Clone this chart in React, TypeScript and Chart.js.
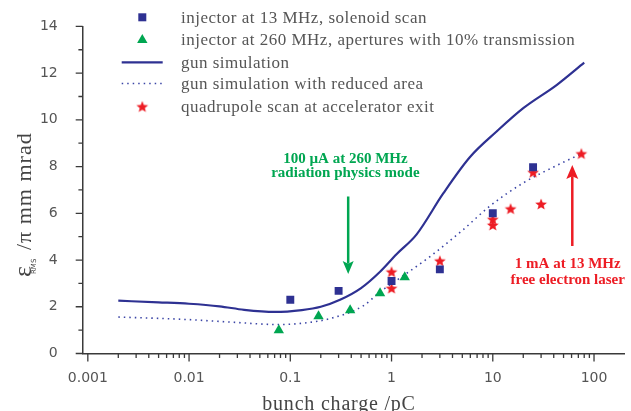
import React, { useEffect, useRef } from 'react';
import { Chart, registerables } from 'chart.js';

Chart.register(...registerables);

// ---------------- data ----------------
const solenoidScanX = [0.1, 0.3, 1, 3, 10, 25];
const solenoidScanY = [2.3, 2.68, 3.1, 3.6, 6.0, 7.97];

const apertureX = [0.077, 0.19, 0.39, 0.77, 1.35];
const apertureY = [1.0, 1.59, 1.85, 2.58, 3.26];

const gunSimX = [0.002, 0.005, 0.01, 0.02, 0.035, 0.07, 0.13, 0.2, 0.31, 0.5, 0.77, 1.12, 1.77, 3.24, 5.93, 10.9, 20, 43, 80];
const gunSimY = [2.26, 2.19, 2.13, 2.02, 1.87, 1.78, 1.86, 2.0, 2.3, 2.8, 3.5, 4.25, 5.1, 6.85, 8.4, 9.5, 10.5, 11.5, 12.45];

const reducedX = [0.002, 0.009, 0.027, 0.075, 0.135, 0.25, 0.53, 0.75, 1.2, 2.4, 5.1, 9.3, 20, 43, 75];
const reducedY = [1.56, 1.46, 1.34, 1.24, 1.3, 1.5, 2.05, 2.6, 3.22, 4.15, 5.3, 6.3, 7.3, 8.05, 8.55];

const quadScanX = [1, 1, 3, 10, 10, 15, 25, 30, 75];
const quadScanY = [3.5, 2.8, 3.97, 5.75, 5.5, 6.2, 7.76, 6.4, 8.56];

const xDecades = [0.001, 0.01, 0.1, 1, 10, 100];
const xTickLabels = ['0.001', '0.01', '0.1', '1', '10', '100'];
const yTickValues = [0, 1, 2, 3, 4, 5, 6, 7, 8, 9, 10, 11, 12, 13, 14];
const yTickLabels = ['0', '', '2', '', '4', '', '6', '', '8', '', '10', '', '12', '', '14'];

const legendLabels = [
  'injector at 13 MHz, solenoid scan',
  'injector at 260 MHz, apertures with 10% transmission',
  'gun simulation',
  'gun simulation with reduced area',
  'quadrupole scan at accelerator exit',
];

const xTitle = 'bunch charge /pC';
const yTitleMain = 'ε';
const yTitleSub = 'RMS';
const yTitleRest = '/π mm mrad';

// annotations (data coordinates)
const greenNote = ['100 µA at 260 MHz', 'radiation physics mode'];
const greenNoteX = 0.35;
const greenNoteY = [8.33, 7.7];
const greenArrowX = 0.373;
const greenArrowFromY = 6.72;
const greenArrowToY = 3.4;

const redNote = ['1 mA at 13 MHz', 'free electron laser'];
const redNoteX = 55;
const redNoteY = [3.84, 3.16];
const redArrowX = 61;
const redArrowFromY = 4.6;
const redArrowToY = 8.07;

// ---------------- styles ----------------
const BLUE = '#2e3192';
const DOT_BLUE = '#3b45a6';
const GREEN = '#00a651';
const RED = '#ed1c24';
const AXIS = '#3a3a3a';
const TEXT = '#555555';
const SERIF = '"Liberation Serif", serif';

function makeStar(size: number, outer: number, inner: number, color: string) {
  const c = document.createElement('canvas');
  c.width = size;
  c.height = size;
  const g = c.getContext('2d')!;
  g.fillStyle = color;
  g.beginPath();
  for (let i = 0; i < 10; i++) {
    const r = i % 2 === 0 ? outer : inner;
    const a = -Math.PI / 2 + (i * Math.PI) / 5;
    const px = size / 2 + r * Math.cos(a);
    const py = size / 2 + 0.6 + r * Math.sin(a);
    if (i === 0) g.moveTo(px, py);
    else g.lineTo(px, py);
  }
  g.closePath();
  g.fill();
  return c;
}

function drawArrow(ctx: CanvasRenderingContext2D, x: number, y0: number, y1: number, color: string, w: number, headLen: number, headHalf: number) {
  const dir = Math.sign(y1 - y0);
  ctx.strokeStyle = color;
  ctx.fillStyle = color;
  ctx.lineWidth = w;
  ctx.setLineDash([]);
  ctx.beginPath();
  ctx.moveTo(x, y0);
  ctx.lineTo(x, y1 - dir * headLen * 0.8);
  ctx.stroke();
  ctx.beginPath();
  ctx.moveTo(x, y1);
  ctx.lineTo(x - headHalf, y1 - dir * headLen);
  ctx.lineTo(x, y1 - dir * headLen * 0.8);
  ctx.lineTo(x + headHalf, y1 - dir * headLen);
  ctx.closePath();
  ctx.fill();
}

export default function App() {
  const ref = useRef<HTMLCanvasElement | null>(null);

  useEffect(() => {
    if (!ref.current) return;
    const star = makeStar(14, 6.2, 2.7, RED);

    const xTickList: { value: number; major: boolean }[] = [];
    xDecades.forEach((d, i) => {
      xTickList.push({ value: d, major: true });
      if (i < xDecades.length - 1) {
        for (let m = 2; m <= 9; m++) xTickList.push({ value: m * d, major: false });
      }
    });

    const decor = {
      id: 'decor',
      afterDraw(chart: any) {
        const ctx: CanvasRenderingContext2D = chart.ctx;
        const a = chart.chartArea;
        const xs = chart.scales.x;
        const ys = chart.scales.y;
        ctx.save();
        // tick marks
        ctx.strokeStyle = AXIS;
        ctx.lineWidth = 1.3;
        ctx.beginPath();
        xTickList.forEach((t) => {
          const px = xs.getPixelForValue(t.value);
          const len = t.major ? 8 : 4.5;
          ctx.moveTo(px, a.bottom);
          ctx.lineTo(px, a.bottom + len);
        });
        yTickValues.forEach((v) => {
          const py = ys.getPixelForValue(v);
          const len = v % 2 === 0 ? 7 : 4.3;
          ctx.moveTo(a.left - len, py);
          ctx.lineTo(a.left, py);
        });
        ctx.stroke();

        // legend
        const lx = 142.3;
        const rows = [17.3, 40, 62.3, 83.5, 106.5];
        ctx.fillStyle = BLUE;
        ctx.fillRect(lx - 4, rows[0] - 4, 8, 8);
        ctx.fillStyle = GREEN;
        ctx.beginPath();
        ctx.moveTo(lx, rows[1] - 6);
        ctx.lineTo(lx + 5.2, rows[1] + 3);
        ctx.lineTo(lx - 5.2, rows[1] + 3);
        ctx.closePath();
        ctx.fill();
        ctx.strokeStyle = BLUE;
        ctx.lineWidth = 2.2;
        ctx.beginPath();
        ctx.moveTo(121.7, rows[2]);
        ctx.lineTo(162.7, rows[2]);
        ctx.stroke();
        ctx.strokeStyle = DOT_BLUE;
        ctx.lineWidth = 1.6;
        ctx.setLineDash([1.5, 4]);
        ctx.beginPath();
        ctx.moveTo(121.7, rows[3]);
        ctx.lineTo(162.7, rows[3]);
        ctx.stroke();
        ctx.setLineDash([]);
        ctx.drawImage(star, lx - 7, rows[4] - 7);
        ctx.fillStyle = TEXT;
        ctx.font = `17px ${SERIF}`;
        (ctx as any).letterSpacing = '0.5px';
        ctx.textAlign = 'left';
        ctx.textBaseline = 'middle';
        legendLabels.forEach((l, i) => ctx.fillText(l, 181, rows[i] + 1));
        (ctx as any).letterSpacing = '0px';

        // annotations
        drawArrow(ctx, xs.getPixelForValue(greenArrowX), ys.getPixelForValue(greenArrowFromY), ys.getPixelForValue(greenArrowToY), GREEN, 2.5, 13, 5.5);
        drawArrow(ctx, xs.getPixelForValue(redArrowX), ys.getPixelForValue(redArrowFromY), ys.getPixelForValue(redArrowToY), RED, 2.5, 14, 6);
        ctx.font = `bold 15px ${SERIF}`;
        ctx.textAlign = 'center';
        ctx.textBaseline = 'middle';
        ctx.fillStyle = GREEN;
        greenNote.forEach((t, i) => ctx.fillText(t, xs.getPixelForValue(greenNoteX), ys.getPixelForValue(greenNoteY[i])));
        ctx.fillStyle = RED;
        redNote.forEach((t, i) => ctx.fillText(t, xs.getPixelForValue(redNoteX), ys.getPixelForValue(redNoteY[i])));

        // axis titles
        ctx.fillStyle = '#444';
        ctx.font = `20px ${SERIF}`;
        (ctx as any).letterSpacing = '0.8px';
        ctx.textAlign = 'center';
        ctx.textBaseline = 'alphabetic';
        ctx.fillText(xTitle, 339, 410);

        ctx.translate(31, 277);
        ctx.rotate(-Math.PI / 2);
        ctx.textAlign = 'left';
        (ctx as any).letterSpacing = '0px';
        ctx.font = `26px ${SERIF}`;
        ctx.fillText(yTitleMain, 0, 0);
        ctx.font = '7px "DejaVu Sans"';
        ctx.fillText(yTitleSub, 3, 5);
        ctx.font = `22px ${SERIF}`;
        (ctx as any).letterSpacing = '1px';
        ctx.fillText(yTitleRest, 27, 0);
        ctx.restore();
      },
    };

    const chart = new Chart(ref.current, {
      type: 'scatter',
      data: {
        datasets: [
          {
            label: legendLabels[0],
            data: solenoidScanX.map((x, i) => ({ x, y: solenoidScanY[i] })),
            pointStyle: 'rect',
            pointRadius: 5.6,
            backgroundColor: BLUE,
            borderWidth: 0,
            order: 0,
          },
          {
            label: legendLabels[1],
            data: apertureX.map((x, i) => ({ x, y: apertureY[i] })),
            pointStyle: 'triangle',
            pointRadius: 6,
            backgroundColor: GREEN,
            borderWidth: 0,
            order: 1,
          },
          {
            label: legendLabels[2],
            data: gunSimX.map((x, i) => ({ x, y: gunSimY[i] })),
            showLine: true,
            pointRadius: 0,
            borderColor: BLUE,
            borderWidth: 2.2,
            cubicInterpolationMode: 'monotone',
            order: 5,
          },
          {
            label: legendLabels[3],
            data: reducedX.map((x, i) => ({ x, y: reducedY[i] })),
            showLine: true,
            pointRadius: 0,
            borderColor: DOT_BLUE,
            borderWidth: 1.6,
            borderDash: [1.5, 4],
            cubicInterpolationMode: 'monotone',
            order: 6,
          },
          {
            label: legendLabels[4],
            data: quadScanX.map((x, i) => ({ x, y: quadScanY[i] })),
            pointStyle: star,
            pointRadius: 6,
            backgroundColor: RED,
            borderWidth: 0,
            order: 2,
          },
        ] as any,
      },
      options: {
        animation: false,
        responsive: true,
        maintainAspectRatio: false,
        events: [],
        layout: { padding: { top: 23.5, right: 6.5, left: 0, bottom: 0 }, autoPadding: false } as any,
        plugins: { legend: { display: false }, tooltip: { enabled: false } },
        scales: {
          x: {
            type: 'logarithmic',
            min: 0.00089,
            max: 200,
            afterBuildTicks: (s: any) => {
              s.ticks = xTickList.map((t) => ({ value: t.value, major: false }));
            },
            afterFit: (s: any) => {
              s.height = 57.5;
            },
            grid: { display: false, drawTicks: true, tickLength: 8 },
            border: { display: true, color: AXIS, width: 1.5 },
            ticks: {
              autoSkip: false,
              maxRotation: 0,
              minRotation: 0,
              padding: 8,
              color: TEXT,
              font: { family: 'DejaVu Sans', size: 14 },
              callback: (v: any) => {
                const i = xDecades.indexOf(Number(v));
                return i >= 0 ? xTickLabels[i] : '';
              },
            },
          },
          y: {
            type: 'linear',
            min: 0,
            max: 14,
            afterBuildTicks: (s: any) => {
              s.ticks = yTickValues.map((v) => ({ value: v }));
            },
            afterFit: (s: any) => {
              s.width = 82.7;
            },
            grid: { display: false, drawTicks: true, tickLength: 7 },
            border: { display: true, color: AXIS, width: 1.5 },
            ticks: {
              autoSkip: false,
              padding: 18,
              color: TEXT,
              font: { family: 'DejaVu Sans', size: 14 },
              callback: (v: any) => {
                const i = yTickValues.indexOf(Number(v));
                return i >= 0 ? yTickLabels[i] : '';
              },
            },
          },
        },
      } as any,
      plugins: [decor],
    });
    return () => chart.destroy();
  }, []);

  return (
    <div style={{ position: 'absolute', left: 0, top: 0, width: 631, height: 411, background: '#fff' }}>
      <canvas ref={ref} />
    </div>
  );
}
